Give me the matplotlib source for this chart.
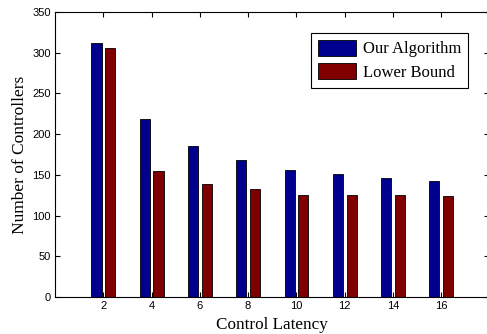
import numpy as np
import matplotlib.pyplot as plt

# Control latency values and controller counts
latency = [2, 4, 6, 8, 10, 12, 14, 16]
our_algorithm = [312, 218, 186, 168, 156, 151, 146, 143]
lower_bound = [306, 155, 139, 132, 125, 125, 125, 124]

x = np.array(latency)

fig = plt.figure(figsize=(4.87, 3.34), dpi=100)
ax = fig.add_axes([0.113, 0.111, 0.892, 0.853])

ax.bar(x - 0.28, our_algorithm, width=0.42, color='#00008F', edgecolor='black',
       linewidth=0.6, label='Our Algorithm')
ax.bar(x + 0.29, lower_bound, width=0.42, color='#800000', edgecolor='black',
       linewidth=0.6, label='Lower Bound')

ax.set_xlim(0, 18)
ax.set_ylim(0, 350)
ax.set_xticks(latency)
ax.set_yticks(range(0, 351, 50))
ax.tick_params(direction='in', top=True, right=True, length=3.5, width=0.8,
               labelsize=8, pad=3)
for lab in ax.get_xticklabels() + ax.get_yticklabels():
    lab.set_family('Liberation Sans')

ax.set_xlabel('Control Latency', family='Liberation Serif', fontsize=12.3, labelpad=4)
ax.set_ylabel('Number of Controllers', family='Liberation Serif', fontsize=12.5, labelpad=3)

leg = ax.legend(loc='upper right', bbox_to_anchor=(0.951, 0.926), borderaxespad=0,
                prop={'family': 'Liberation Serif', 'size': 12},
                fancybox=False, framealpha=1, edgecolor='black',
                handlelength=2.3, handleheight=1.1, borderpad=0.4,
                labelspacing=0.35, handletextpad=0.4)
leg.get_frame().set_linewidth(0.8)

plt.savefig('out.png', dpi=100)
